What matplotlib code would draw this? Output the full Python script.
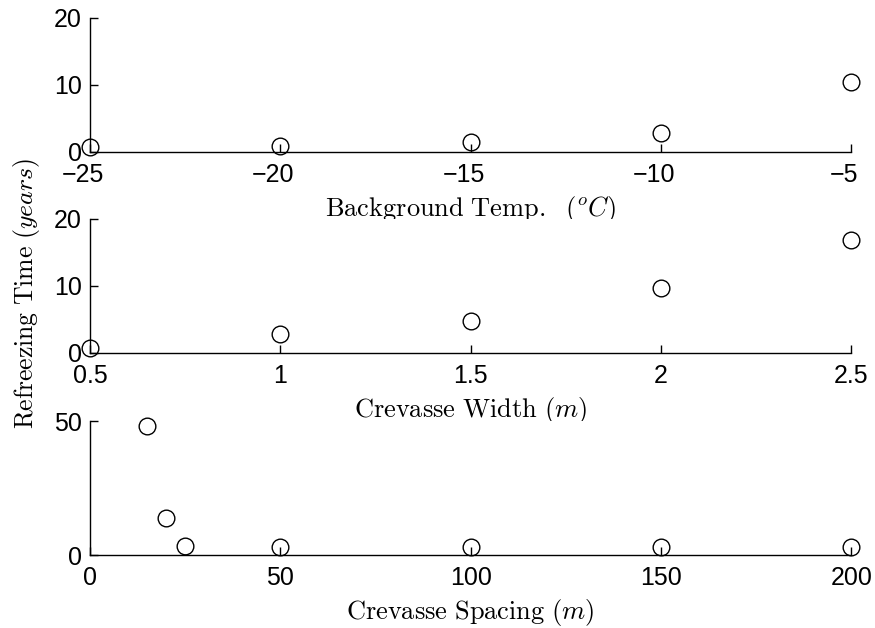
import matplotlib
matplotlib.use("Agg")
import matplotlib.pyplot as plt
from matplotlib.transforms import ScaledTranslation

# Refreezing time against each crevasse parameter
temp_c = [-25, -20, -15, -10, -5]
temp_years = [0.8, 0.9, 1.5, 2.8, 10.4]

width_m = [0.5, 1.0, 1.5, 2.0, 2.5]
width_years = [0.8, 2.8, 4.8, 9.7, 16.8]

spacing_m = [15, 20, 25, 50, 100, 150, 200]
spacing_years = [48.0, 13.8, 3.3, 3.0, 3.0, 3.0, 3.0]

plt.rcParams["font.family"] = ["Liberation Sans", "DejaVu Sans"]
plt.rcParams["mathtext.fontset"] = "cm"

TICK_SIZE = 18
LABEL_SIZE = 19

fig = plt.figure(figsize=(8.75, 6.28), dpi=100)

panels = [
    (0.758, temp_c, temp_years, (-25, -5), [-25, -20, -15, -10, -5], None,
     (0, 20), [0, 10, 20], r"$\mathrm{Background\ Temp.}\ \ (^oC)$"),
    (0.438, width_m, width_years, (0.5, 2.5), [0.5, 1, 1.5, 2, 2.5],
     ["0.5", "1", "1.5", "2", "2.5"],
     (0, 20), [0, 10, 20], r"$\mathrm{Crevasse\ Width}\ (m)$"),
    (0.116, spacing_m, spacing_years, (0, 200), [0, 50, 100, 150, 200], None,
     (0, 50), [0, 50], r"$\mathrm{Crevasse\ Spacing}\ (m)$"),
]

axes = []
for bottom, xs, ys, xlim, xticks, xticklabels, ylim, yticks, xlabel in panels:
    ax = fig.add_axes([0.103, bottom, 0.870, 0.2134])
    ax.plot(xs, ys, "o", markersize=12, markerfacecolor="none",
            markeredgecolor="black", markeredgewidth=1.0, clip_on=False)
    ax.set_xlim(*xlim)
    ax.set_ylim(*ylim)
    ax.set_xticks(xticks)
    if xticklabels is not None:
        ax.set_xticklabels(xticklabels)
    ax.set_yticks(yticks)
    for side in ("top", "right"):
        ax.spines[side].set_visible(False)
    for side in ("left", "bottom"):
        ax.spines[side].set_linewidth(1.0)
    ax.tick_params(direction="in", length=6, width=1.0, labelsize=TICK_SIZE)
    ax.tick_params(axis="x", pad=8)
    ax.tick_params(axis="y", pad=6)
    ax.set_xlabel(xlabel, fontsize=LABEL_SIZE, labelpad=5)
    axes.append(ax)

# negative temperature labels sit slightly left of their ticks
shift = ScaledTranslation(-7 / 100, 0, fig.dpi_scale_trans)
for lbl in axes[0].get_xticklabels():
    lbl.set_transform(lbl.get_transform() + shift)

fig.text(0.030, 0.533, r"$\mathrm{Refreezing\ Time}\ (years)$",
         rotation=90, fontsize=18.5, ha="center", va="center")

fig.savefig("out.png", dpi=100)
